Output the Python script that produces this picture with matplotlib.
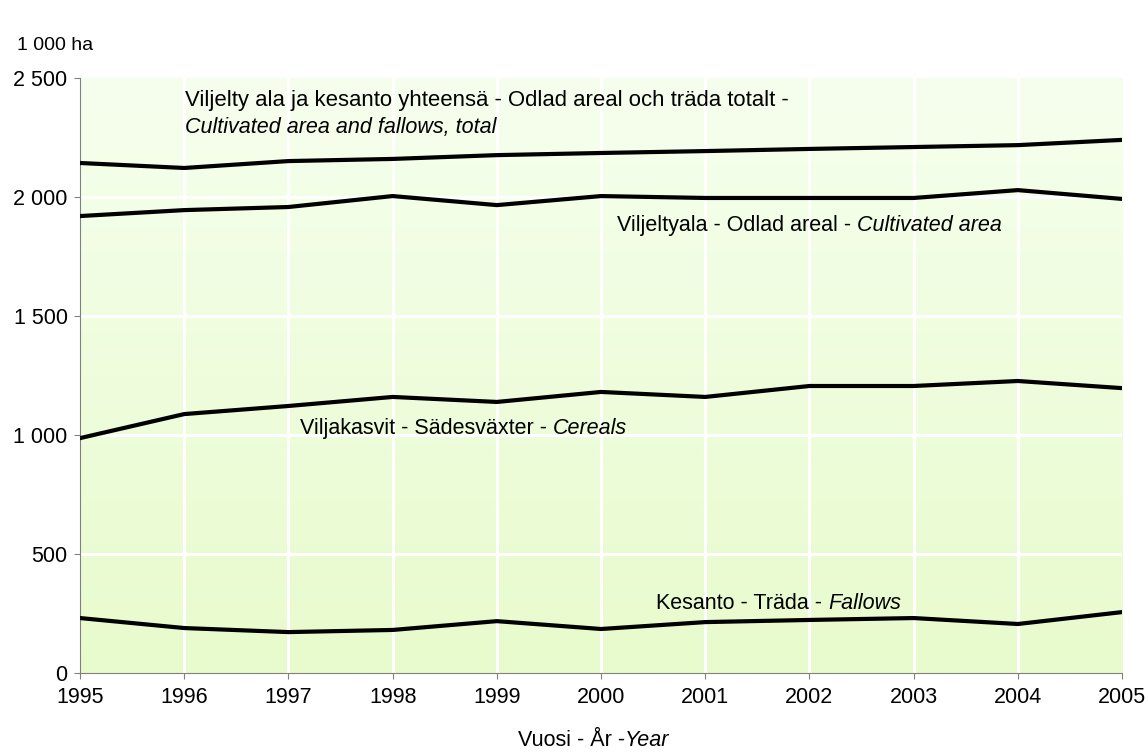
import numpy as np
import matplotlib.pyplot as plt
from matplotlib.colors import LinearSegmentedColormap

plt.rcParams['font.family'] = ['Liberation Sans', 'DejaVu Sans']
FS = 15.5

years = list(range(1995, 2006))
total = [2143, 2122, 2151, 2160, 2176, 2185, 2193, 2202, 2210, 2218, 2240]
cultivated = [1920, 1945, 1958, 2004, 1966, 2004, 1996, 1996, 1996, 2029, 1992]
cereals = [987, 1088, 1122, 1160, 1139, 1181, 1160, 1206, 1206, 1227, 1197]
fallows = [231, 189, 172, 181, 218, 185, 214, 223, 231, 206, 256]

yticks = [0, 500, 1000, 1500, 2000, 2500]
ytick_labels = ['0', '500', '1 000', '1 500', '2 000', '2 500']

fig = plt.figure(figsize=(11.48, 7.53), dpi=100)
ax = fig.add_axes([0.0697, 0.1062, 0.9077, 0.7902])

# background gradient
cmap = LinearSegmentedColormap.from_list('bg', ['#e8fbcc', '#f6ffee'])
grad = np.linspace(0, 1, 256).reshape(-1, 1)
ax.imshow(grad, extent=[1995, 2005, 0, 2500], origin='lower', aspect='auto',
          cmap=cmap, zorder=0)

for yr in years[1:-1]:
    ax.axvline(yr, color='white', lw=2.2, zorder=1)
for v in yticks[1:-1]:
    ax.axhline(v, color='white', lw=2.2, zorder=1)

for s in [total, cultivated, cereals, fallows]:
    ax.plot(years, s, color='black', lw=3, zorder=3)

ax.set_xlim(1995, 2005)
ax.set_ylim(0, 2500)
ax.set_xticks(years)
ax.set_yticks(yticks)
ax.set_yticklabels(ytick_labels)
for sp in ['top', 'right']:
    ax.spines[sp].set_visible(False)
for sp in ['left', 'bottom']:
    ax.spines[sp].set_color('#808080')
ax.tick_params(colors='#808080', labelcolor='black', length=4, direction='out', labelsize=FS)
ax.tick_params(axis='x', pad=6)
ax.tick_params(axis='y', pad=5)

def label(x, y, plain, italic):
    t = ax.text(x, y, plain, va='center', ha='left', fontsize=FS, zorder=4)
    ax.annotate(italic, xy=(1, 0), xycoords=t, va='bottom', ha='left',
                fontsize=FS, style='italic', zorder=4)

ax.text(1996.01, 2407, 'Viljelty ala ja kesanto yhteensä - Odlad areal och träda totalt -',
        va='center', ha='left', fontsize=15.9)
ax.text(1996.01, 2294, 'Cultivated area and fallows, total', va='center', ha='left',
        fontsize=FS, style='italic')
label(2000.15, 1882, 'Viljeltyala - Odlad areal - ', 'Cultivated area')
label(1997.11, 1029, 'Viljakasvit - Sädesväxter - ', 'Cereals')
label(2000.53, 294, 'Kesanto - Träda - ', 'Fallows')

fig.text(17 / 1148, 1 - 46 / 753, '1 000 ha', va='center', ha='left', fontsize=14)
xl = fig.text(518 / 1148, 1 - 740 / 753, 'Vuosi - År -', va='center', ha='left', fontsize=FS)
fig.canvas.draw()
bb = xl.get_window_extent()
fig.text(bb.x1 / fig.bbox.width, 1 - 740 / 753, 'Year', va='center', ha='left',
         fontsize=FS, style='italic')

fig.savefig('out.png', dpi=100)
